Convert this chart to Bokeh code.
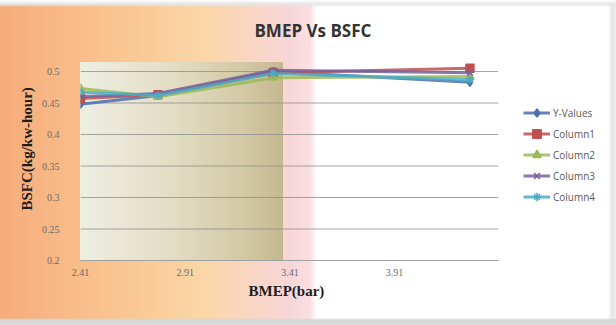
from bokeh.plotting import figure
from bokeh.models import FixedTicker, Legend, LegendItem, PrintfTickFormatter, Title, Label
from bokeh.embed import file_html
from bokeh.resources import INLINE

# BMEP (bar) at the four load points
bmep = [2.41, 2.78, 3.33, 4.27]

# BSFC (kg/kW-hour) for each series
y_values = [0.448, 0.462, 0.500, 0.483]
column1 = [0.457, 0.463, 0.498, 0.505]
column2 = [0.473, 0.460, 0.490, 0.492]
column3 = [0.460, 0.465, 0.502, 0.498]
column4 = [0.467, 0.462, 0.497, 0.487]

series_names = ["Y-Values", "Column1", "Column2", "Column3", "Column4"]
x_ticks = [2.41, 2.91, 3.41, 3.91]
y_ticks = [0.2, 0.25, 0.3, 0.35, 0.4, 0.45, 0.5]
y_tick_labels = ["0.2", "0.25", "0.3", "0.35", "0.4", "0.45", "0.5"]

colors = ["#4A70B0", "#C0504D", "#9BBB59", "#7560A0", "#4BACC6"]
markers = ["diamond", "square", "triangle", "x", "asterisk"]

# axis and gridlines stop at x_end; the space to the right holds the legend,
# the space above the 0.5 line holds the title
x_start, x_end = 2.41, 4.405

p = figure(
    width=616, height=325,
    x_range=(x_start, 4.97), y_range=(0.2, 0.6016),
    output_backend="svg", toolbar_location=None,
    min_border_left=80, min_border_right=0,
    min_border_top=7, min_border_bottom=65,
)

# chart area: warm gradient on the left, white on the right; plot area tan block
p.styles = {
    "background": (
        "linear-gradient(to bottom, #FFFFFF 0px, #E6E6E6 4px, rgba(255,255,255,0) 7px, "
        "rgba(255,255,255,0) 318px, #D6D6D6 320px, #DCDCDC 325px), "
        "linear-gradient(to right, rgba(255,255,255,0) 608px, #E4E4E4 612px, #EEEEEE 616px), "
        "linear-gradient(to right, #EEEEE2 0%, #E2DDC4 45%, #D3C9A6 80%, #C6B78F 100%) "
        "80px 62px / 203px 198px no-repeat, "
        "linear-gradient(to right, #F6AC7B 0px, #F8BB88 70px, #FAC996 140px, "
        "#FBD6A6 200px, #F9D6C2 250px, #F8D6D8 290px, #FADFE3 310px, "
        "#FFFFFF 317px, #FFFFFF 100%)"
    )
}
p.border_fill_color = None
p.background_fill_color = None
p.outline_line_color = None

p.add_layout(Label(
    x=3.52, y=0.565, text="BMEP Vs BSFC",
    text_align="center", text_baseline="middle",
    text_font="Open Sans", text_font_size="17px", text_font_style="bold",
    text_color="#333333",
))

# axis captions, placed beside the plot area
p.add_layout(
    Title(
        text="BMEP(bar)", align="left", offset=168, standoff=4,
        text_font="Liberation Serif", text_font_size="15px", text_font_style="bold",
        text_color="#1E1E1E",
    ),
    "below",
)
p.add_layout(
    Title(
        text="BSFC(kg/kw-hour)", align="left", offset=50, standoff=7,
        text_font="Liberation Serif", text_font_size="15px", text_font_style="bold",
        text_color="#1E1E1E",
    ),
    "left",
)

# axes
p.xaxis.ticker = FixedTicker(ticks=x_ticks)
p.xaxis.formatter = PrintfTickFormatter(format="%.2f")
p.xaxis.bounds = (x_start, x_end)
p.yaxis.ticker = FixedTicker(ticks=y_ticks)
p.yaxis.major_label_overrides = dict(zip(y_ticks, y_tick_labels))

for ax in (p.xaxis[0], p.yaxis[0]):
    ax.major_tick_line_color = None
    ax.minor_tick_line_color = None
    ax.major_label_text_font = "Liberation Serif"
    ax.major_label_text_font_size = "10px"
    ax.major_label_text_color = "#6B6B6B"

p.xaxis.axis_line_color = "#A0A0A0"
p.xaxis.major_label_standoff = 2
p.yaxis.axis_line_color = None
p.yaxis.major_label_standoff = 15

# horizontal gridlines across the plot area only
p.xgrid.grid_line_color = None
p.ygrid.grid_line_color = None
p.segment(x0=x_start, x1=x_end, y0=y_ticks, y1=y_ticks,
          line_color="#8E8E8E", line_alpha=0.8, line_width=1)

items = []
for name, ys, c, m in zip(series_names, [y_values, column1, column2, column3, column4], colors, markers):
    ln = p.line(bmep, ys, line_color=c, line_width=3, line_alpha=0.85)
    sc = p.scatter(bmep, ys, marker=m, size=8, fill_color=c, line_color=c, line_width=1.5)
    items.append(LegendItem(label=name, renderers=[ln, sc]))

legend = Legend(
    items=items, location=(443, 53),
    label_text_font="Open Sans", label_text_font_size="10px", label_text_color="#595959",
    glyph_width=27, glyph_height=21, label_height=21, spacing=0,
    label_standoff=3, padding=0, margin=0,
    border_line_color=None, background_fill_alpha=0,
)
p.add_layout(legend)

open("out.html", "w").write(file_html(p, INLINE))
